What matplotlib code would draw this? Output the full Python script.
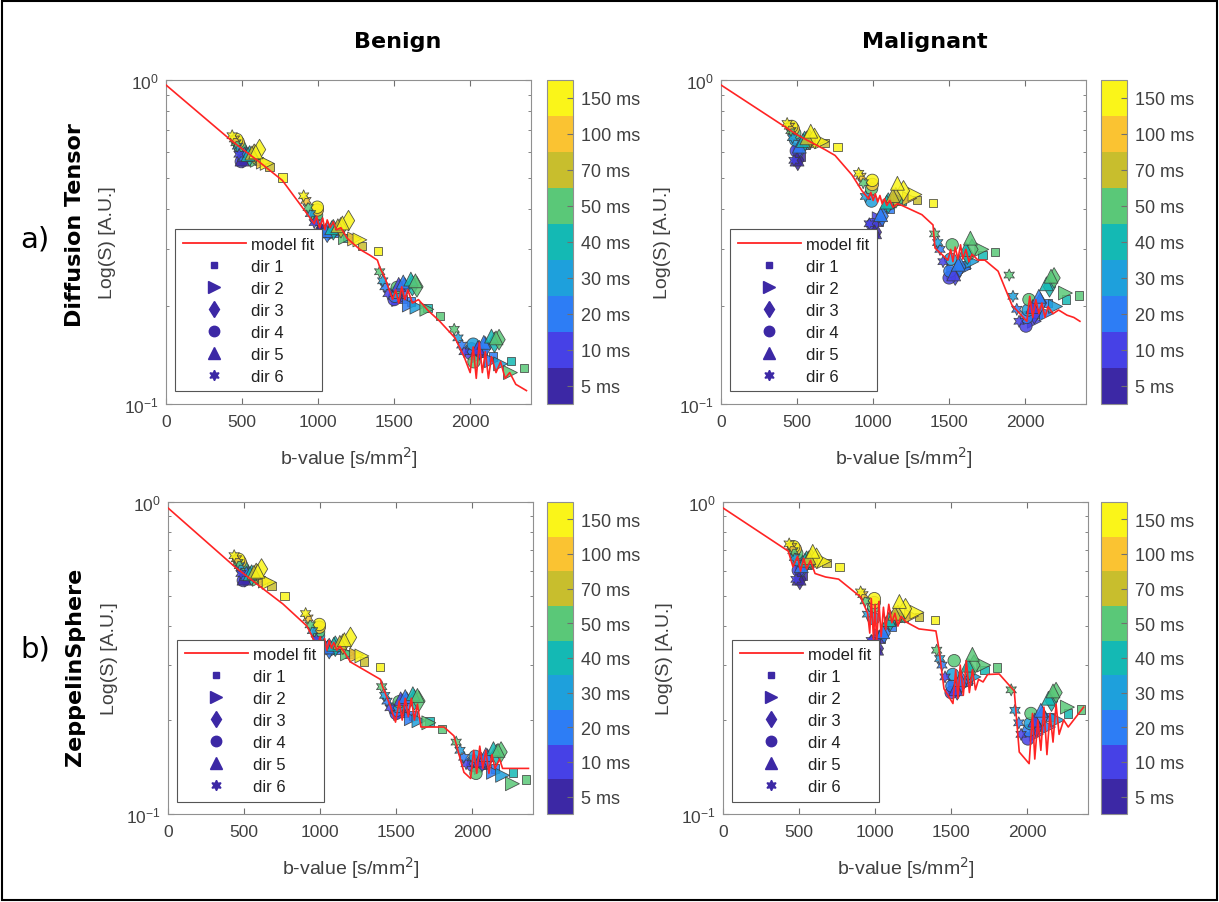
import matplotlib
matplotlib.use('Agg')
import matplotlib.pyplot as plt
from matplotlib.colors import ListedColormap, BoundaryNorm
from matplotlib.cm import ScalarMappable
from matplotlib.lines import Line2D
from matplotlib.patches import Rectangle
from matplotlib.ticker import LogLocator, NullFormatter, FixedLocator

plt.rcParams['font.family'] = ['Liberation Sans', 'DejaVu Sans']

# ---------------- data ----------------
col_titles = ['Benign', 'Malignant']
row_titles = ['Diffusion Tensor', 'ZeppelinSphere']
row_tags = ['a)', 'b)']
time_ms = [5, 10, 20, 30, 40, 50, 70, 100, 150]
time_labels = ['5 ms', '10 ms', '20 ms', '30 ms', '40 ms', '50 ms', '70 ms', '100 ms', '150 ms']
time_colors = ['#3c28a5', '#4641e6', '#2d7df5', '#1ea0dc', '#14b9b4',
               '#5ac878', '#c8be2d', '#fac332', '#faf519']
dir_labels = ['dir 1', 'dir 2', 'dir 3', 'dir 4', 'dir 5', 'dir 6']

# measured points (shared acquisition): b-value, direction, diffusion time
pts_b = [525, 560, 610, 680, 765, 520, 560, 600, 640, 665, 505, 525, 550, 580, 615,
         495, 490, 485, 475, 465, 500, 515, 540, 565, 590, 480, 470, 460, 450, 435,
         1040, 1110, 1190, 1290, 1395, 1040, 1110, 1180, 1240, 1275, 1015, 1060, 1100, 1150, 1200,
         995, 990, 990, 995, 995, 1010, 1050, 1090, 1130, 1160, 975, 950, 935, 920, 905,
         1560, 1610, 1720, 1800, 1530, 1600, 1650, 1715, 1540, 1570, 1620, 1650,
         1500, 1505, 1510, 1520, 1530, 1560, 1610, 1640, 1460, 1440, 1425, 1405,
         2080, 2150, 2270, 2355, 2060, 2140, 2200, 2265, 2060, 2100, 2160, 2190,
         2005, 2010, 2020, 2025, 2050, 2090, 2140, 2170, 1960, 1945, 1920, 1895]
pts_dir = [1, 1, 1, 1, 1, 2, 2, 2, 2, 2, 3, 3, 3, 3, 3, 4, 4, 4, 4, 4, 5, 5, 5, 5, 5, 6, 6, 6, 6, 6,
           1, 1, 1, 1, 1, 2, 2, 2, 2, 2, 3, 3, 3, 3, 3, 4, 4, 4, 4, 4, 5, 5, 5, 5, 5, 6, 6, 6, 6, 6,
           1, 1, 1, 1, 2, 2, 2, 2, 3, 3, 3, 3, 4, 4, 4, 4, 5, 5, 5, 5, 6, 6, 6, 6,
           1, 1, 1, 1, 2, 2, 2, 2, 3, 3, 3, 3, 4, 4, 4, 4, 5, 5, 5, 5, 6, 6, 6, 6]
pts_ms = [5, 20, 40, 70, 150, 10, 30, 50, 100, 150, 5, 20, 40, 70, 150,
          10, 30, 50, 100, 150, 5, 20, 40, 70, 150, 10, 30, 50, 100, 150,
          5, 20, 40, 70, 150, 10, 30, 50, 100, 150, 5, 20, 40, 70, 150,
          10, 30, 50, 100, 150, 5, 20, 40, 70, 150, 10, 30, 50, 100, 150,
          10, 20, 40, 50, 10, 20, 30, 50, 10, 20, 40, 50, 10, 20, 30, 50, 10, 20, 40, 50, 10, 20, 30, 50,
          10, 20, 40, 50, 10, 20, 30, 50, 10, 20, 40, 50, 10, 20, 30, 50, 10, 20, 40, 50, 10, 20, 30, 50]
benign_s = [0.586, 0.578, 0.563, 0.538, 0.500, 0.589, 0.578, 0.565, 0.558, 0.553,
            0.576, 0.585, 0.583, 0.590, 0.610, 0.560, 0.613, 0.625, 0.643, 0.655,
            0.570, 0.591, 0.589, 0.595, 0.600, 0.590, 0.625, 0.640, 0.658, 0.673,
            0.347, 0.337, 0.326, 0.308, 0.296, 0.346, 0.337, 0.326, 0.323, 0.321,
            0.341, 0.339, 0.345, 0.350, 0.368, 0.330, 0.372, 0.383, 0.397, 0.405,
            0.343, 0.343, 0.350, 0.355, 0.362, 0.363, 0.387, 0.404, 0.425, 0.439,
            0.211, 0.207, 0.198, 0.187, 0.210, 0.202, 0.199, 0.196, 0.225, 0.228, 0.232, 0.230,
            0.210, 0.215, 0.221, 0.229, 0.234, 0.238, 0.243, 0.240, 0.219, 0.230, 0.240, 0.256,
            0.144, 0.140, 0.136, 0.129, 0.141, 0.136, 0.133, 0.125, 0.146, 0.150, 0.155, 0.158,
            0.143, 0.148, 0.153, 0.135, 0.149, 0.155, 0.162, 0.160, 0.145, 0.152, 0.160, 0.170]
malignant_s = [0.580, 0.629, 0.644, 0.638, 0.620, 0.611, 0.636, 0.647, 0.648, 0.645,
               0.565, 0.620, 0.646, 0.656, 0.660, 0.604, 0.653, 0.685, 0.707, 0.719,
               0.570, 0.625, 0.651, 0.663, 0.695, 0.565, 0.664, 0.698, 0.720, 0.734,
               0.365, 0.399, 0.424, 0.427, 0.418, 0.373, 0.407, 0.425, 0.431, 0.443,
               0.339, 0.380, 0.417, 0.433, 0.455, 0.358, 0.423, 0.462, 0.476, 0.490,
               0.340, 0.384, 0.420, 0.440, 0.480, 0.360, 0.437, 0.482, 0.505, 0.515,
               0.262, 0.268, 0.289, 0.295, 0.255, 0.262, 0.275, 0.300, 0.250, 0.265, 0.290, 0.300,
               0.245, 0.257, 0.280, 0.310, 0.252, 0.270, 0.300, 0.325, 0.275, 0.300, 0.315, 0.335,
               0.190, 0.205, 0.210, 0.216, 0.180, 0.190, 0.200, 0.220, 0.190, 0.205, 0.230, 0.245,
               0.174, 0.185, 0.195, 0.210, 0.200, 0.215, 0.235, 0.248, 0.180, 0.196, 0.215, 0.250]

# model fits
dt_benign_fit_b = [0, 430, 600, 765, 930, 975, 990, 1010, 1030, 1045, 1060, 1080, 1100, 1120, 1150,
                   1190, 1275, 1340, 1390, 1407, 1440, 1490, 1510, 1530, 1550, 1570, 1590, 1620, 1660,
                   1720, 1800, 1900, 1960, 2000, 2020, 2040, 2060, 2080, 2100, 2120, 2140, 2170, 2200,
                   2230, 2260, 2300, 2370]
dt_benign_fit_s = [0.965, 0.65, 0.565, 0.49, 0.385, 0.36, 0.38, 0.35, 0.375, 0.345, 0.37, 0.35, 0.365,
                   0.345, 0.35, 0.325, 0.30, 0.288, 0.278, 0.263, 0.245, 0.21, 0.225, 0.205, 0.23, 0.21,
                   0.225, 0.205, 0.21, 0.195, 0.18, 0.16, 0.14, 0.125, 0.15, 0.12, 0.155, 0.125, 0.145,
                   0.12, 0.14, 0.125, 0.135, 0.12, 0.125, 0.115, 0.11]
dt_malig_fit_b = [0, 506, 683, 750, 860, 927, 970, 985, 1000, 1015, 1030, 1045, 1060, 1075, 1090, 1110,
                  1130, 1160, 1190, 1321, 1394, 1407, 1492, 1510, 1525, 1540, 1558, 1575, 1590, 1610,
                  1630, 1650, 1690, 1735, 1822, 1913, 2011, 2030, 2050, 2070, 2090, 2110, 2130, 2150,
                  2183, 2220, 2275, 2320, 2360]
dt_malig_fit_s = [0.965, 0.675, 0.61, 0.585, 0.51, 0.455, 0.43, 0.45, 0.425, 0.445, 0.42, 0.44, 0.415,
                  0.43, 0.41, 0.425, 0.405, 0.415, 0.41, 0.384, 0.357, 0.303, 0.278, 0.30, 0.275, 0.305,
                  0.28, 0.31, 0.28, 0.30, 0.275, 0.29, 0.278, 0.278, 0.257, 0.202, 0.18, 0.215, 0.185,
                  0.21, 0.19, 0.205, 0.185, 0.2, 0.19, 0.195, 0.188, 0.185, 0.18]
zs_benign_fit_b = [0, 439, 584, 756, 914, 980, 1000, 1015, 1030, 1045, 1060, 1075, 1090, 1110, 1130,
                   1160, 1200, 1397, 1410, 1462, 1496, 1520, 1540, 1560, 1580, 1600, 1620, 1640, 1663,
                   1815, 1880, 1946, 1990, 2010, 2030, 2050, 2070, 2090, 2110, 2130, 2150, 2180, 2200,
                   2250, 2370]
zs_benign_fit_s = [0.957, 0.62, 0.546, 0.471, 0.40, 0.345, 0.37, 0.34, 0.365, 0.335, 0.36, 0.34, 0.355,
                   0.335, 0.345, 0.33, 0.307, 0.27, 0.257, 0.222, 0.197, 0.23, 0.2, 0.235, 0.205, 0.235,
                   0.2, 0.225, 0.19, 0.19, 0.178, 0.136, 0.13, 0.16, 0.135, 0.165, 0.14, 0.16, 0.135,
                   0.155, 0.14, 0.15, 0.14, 0.14, 0.14]
zs_malig_fit_b = [0, 429, 460, 490, 510, 530, 550, 575, 605, 674, 760, 905, 951, 965, 975, 990, 1000,
                  1010, 1025, 1040, 1055, 1070, 1090, 1110, 1130, 1150, 1170, 1202, 1288, 1400, 1420,
                  1453, 1512, 1530, 1545, 1560, 1580, 1600, 1620, 1640, 1660, 1680, 1710, 1740, 1816,
                  1915, 1948, 2013, 2035, 2050, 2070, 2090, 2110, 2130, 2150, 2170, 2190, 2210, 2240,
                  2270, 2371]
zs_malig_fit_s = [0.957, 0.696, 0.62, 0.67, 0.60, 0.66, 0.61, 0.65, 0.59, 0.575, 0.566, 0.496, 0.44,
                  0.38, 0.49, 0.36, 0.47, 0.35, 0.48, 0.37, 0.46, 0.39, 0.47, 0.41, 0.44, 0.40, 0.43,
                  0.413, 0.392, 0.386, 0.338, 0.252, 0.226, 0.29, 0.235, 0.30, 0.24, 0.31, 0.245, 0.29,
                  0.25, 0.27, 0.265, 0.28, 0.281, 0.248, 0.158, 0.145, 0.21, 0.15, 0.20, 0.16, 0.22,
                  0.155, 0.21, 0.17, 0.225, 0.18, 0.2, 0.19, 0.22]

x_ticks = [0, 500, 1000, 1500, 2000]

# ---------------- styles ----------------
dir_markers = ['s', '>', 'd', 'o', '^', (6, 1, 0)]
dir_sizes = [36, 100, 110, 80, 100, 75]
leg_sizes = [4.5, 8, 8.5, 7.5, 8, 7.5]
W, H = 1219, 903
GRAY = '#404040'


def rect(x0, y0, x1, y1):
    return [x0 / W, 1 - y1 / H, (x1 - x0) / W, (y1 - y0) / H]


fig = plt.figure(figsize=(W / 100, H / 100), dpi=100)

panels = [
    (rect(166, 81, 531, 405), rect(547, 81, 573, 405), benign_s, dt_benign_fit_b, dt_benign_fit_s),
    (rect(721, 81, 1086, 405), rect(1101, 81, 1127, 405), malignant_s, dt_malig_fit_b, dt_malig_fit_s),
    (rect(168, 503, 533, 815), rect(547, 503, 573, 815), benign_s, zs_benign_fit_b, zs_benign_fit_s),
    (rect(723, 503, 1088, 815), rect(1101, 503, 1127, 815), malignant_s, zs_malig_fit_b, zs_malig_fit_s),
]

cmap = ListedColormap(time_colors)
norm = BoundaryNorm([i - 0.5 for i in range(len(time_colors) + 1)], cmap.N)

for ax_pos, cb_pos, svals, fit_b, fit_s in panels:
    ax = fig.add_axes(ax_pos)
    for d in range(1, 7):
        idx = [i for i, v in enumerate(pts_dir) if v == d]
        xs = [pts_b[i] for i in idx]
        ys = [svals[i] for i in idx]
        cs = [time_colors[time_ms.index(pts_ms[i])] for i in idx]
        ax.scatter(xs, ys, s=dir_sizes[d - 1], marker=dir_markers[d - 1], c=cs,
                   edgecolors='#3a3a3a', linewidths=0.6, alpha=0.85, zorder=2)
    ax.plot(fit_b, fit_s, color='#ff2424', lw=1.2, zorder=3)

    ax.set_yscale('log')
    ax.set_xlim(0, 2400)
    ax.set_ylim(0.1, 1.0)
    ax.set_xticks(x_ticks)
    ax.yaxis.set_major_locator(FixedLocator([0.1, 1.0]))
    ax.yaxis.set_minor_locator(LogLocator(base=10, subs=[2, 3, 4, 5, 6, 7, 8, 9]))
    ax.yaxis.set_minor_formatter(NullFormatter())
    ax.tick_params(which='both', direction='in', top=True, right=True, colors='#707070',
                   labelcolor=GRAY, labelsize=12.5)
    ax.tick_params(axis='x', which='major', length=4, pad=7)
    ax.tick_params(axis='y', which='major', length=4, pad=5)
    ax.tick_params(axis='y', which='minor', length=2.5)
    for sp in ax.spines.values():
        sp.set_color('#909090')
        sp.set_linewidth(0.8)
    ax.set_xlabel('b-value [s/mm$^2$]', fontsize=14, color=GRAY, labelpad=11)
    ax.set_ylabel('Log(S) [A.U.]', fontsize=14, color=GRAY, labelpad=6)

    handles = [Line2D([], [], color='#ff2424', lw=1.3)]
    for d in range(6):
        handles.append(Line2D([], [], ls='none', marker=dir_markers[d], markersize=leg_sizes[d],
                              markerfacecolor='#3c28a5', markeredgecolor='#3c28a5'))
    leg = ax.legend(handles, ['model fit'] + dir_labels, loc='lower left',
                    bbox_to_anchor=(0.025, 0.04), borderaxespad=0, fontsize=12,
                    handlelength=3.8, handletextpad=0.3, labelspacing=0.42,
                    borderpad=0.45, fancybox=False, framealpha=1)
    leg.get_frame().set_edgecolor('#555555')
    leg.get_frame().set_linewidth(0.8)
    for t in leg.get_texts():
        t.set_color('#202020')

    cax = fig.add_axes(cb_pos)
    cb = fig.colorbar(ScalarMappable(norm=norm, cmap=cmap), cax=cax, ticks=list(range(9)))
    cb.set_ticklabels(time_labels)
    cb.ax.tick_params(direction='in', length=4, labelsize=13, colors='#707070', labelcolor=GRAY, pad=6)
    cb.outline.set_edgecolor('#909090')
    cb.outline.set_linewidth(0.8)
    cb.ax.minorticks_off()

fig.text(398 / W, 1 - 42 / H, col_titles[0], fontsize=16, fontweight='bold',
         family='DejaVu Sans', ha='center', va='center')
fig.text(925 / W, 1 - 42 / H, col_titles[1], fontsize=16, fontweight='bold',
         family='DejaVu Sans', ha='center', va='center')
fig.text(75 / W, 1 - 225 / H, row_titles[0], fontsize=16, fontweight='bold',
         family='DejaVu Sans', rotation=90, ha='center', va='center')
fig.text(75 / W, 1 - 667 / H, row_titles[1], fontsize=16, fontweight='bold',
         family='DejaVu Sans', rotation=90, ha='center', va='center')
fig.text(35 / W, 1 - 240 / H, row_tags[0], fontsize=21, family='DejaVu Sans',
         ha='center', va='center')
fig.text(35 / W, 1 - 650 / H, row_tags[1], fontsize=21, family='DejaVu Sans',
         ha='center', va='center')

fig.patches.append(Rectangle((0.002, 0.002), 0.996, 0.996, transform=fig.transFigure,
                             fill=False, edgecolor='black', linewidth=1.5))

fig.savefig('out.png', dpi=100)
